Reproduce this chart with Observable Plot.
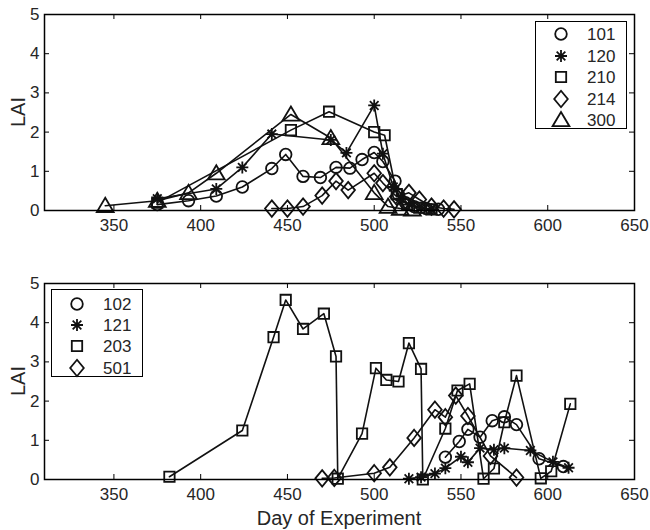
<!DOCTYPE html>
<html><head><meta charset="utf-8">
<script src="https://cdn.jsdelivr.net/npm/d3@7"></script>
<script src="https://cdn.jsdelivr.net/npm/@observablehq/plot@0.6"></script>
<style>
body{margin:0;background:#fff;}
#wrap{position:relative;width:650px;height:530px;overflow:hidden;font-family:"Liberation Sans",Arial,sans-serif;color:#262626;}
.panel{position:absolute;left:0;}
.legend{position:absolute;border:1.4px solid #000;background:#fff;box-sizing:border-box;}
.legend svg{position:absolute;overflow:visible;}
.legend span{position:absolute;font-size:17px;line-height:1;transform:translateY(-50%);color:#262626;}
.lab{position:absolute;font-size:20px;white-space:nowrap;line-height:1;color:#262626;}
</style></head>
<body><div id="wrap"></div>
<script>
// ---------- data ----------
const xTicks = [350, 400, 450, 500, 550, 600, 650];
const yTicks = [0, 1, 2, 3, 4, 5];

// top panel
const topNames = ["101", "120", "210", "214", "300"];
const day101 = [375, 393, 409, 424, 441, 449, 459, 469, 478, 486, 493, 500, 505, 512, 514, 518, 523, 530, 537];
const lai101 = [0.15, 0.25, 0.37, 0.6, 1.07, 1.43, 0.87, 0.84, 1.1, 1.08, 1.3, 1.48, 1.25, 0.75, 0.4, 0.2, 0.1, 0.05, 0.03];
const day120 = [375, 409, 424, 441, 475, 484, 500, 505, 511, 515, 520, 527, 533];
const lai120 = [0.3, 0.55, 1.1, 1.95, 1.8, 1.47, 2.68, 1.45, 0.6, 0.3, 0.15, 0.07, 0.03];
const day210 = [375, 452, 474, 500, 506, 513, 519, 526, 533];
const lai210 = [0.2, 2.05, 2.52, 2.0, 1.92, 0.42, 0.15, 0.07, 0.03];
const day214 = [441, 450, 459, 470, 478, 485, 500, 505, 513, 520, 526, 533, 540, 546];
const lai214 = [0.05, 0.05, 0.1, 0.38, 0.75, 0.52, 0.95, 0.7, 0.35, 0.45, 0.28, 0.1, 0.05, 0.03];
const day300 = [345, 375, 393, 409, 452, 475, 500, 508, 515, 522];
const lai300 = [0.12, 0.25, 0.45, 0.95, 2.45, 1.85, 0.45, 0.1, 0.05, 0.03];

// bottom panel
const botNames = ["102", "121", "203", "501"];
const day102 = [541, 549, 554, 561, 568, 575, 582, 595, 609];
const lai102 = [0.57, 0.97, 1.28, 1.08, 1.5, 1.6, 1.4, 0.53, 0.33];
const day121 = [520, 527, 535, 541, 550, 554, 561, 569, 575, 590, 603, 612];
const lai121 = [0.02, 0.06, 0.15, 0.29, 0.58, 0.44, 0.8, 0.76, 0.8, 0.74, 0.45, 0.3];
const day203 = [382, 424, 442, 449, 459, 471, 478, 479, 493, 501, 507, 514, 520, 527, 528, 541, 548, 555, 563, 569, 575, 582, 596, 602, 613];
const lai203 = [0.07, 1.25, 3.63, 4.58, 3.84, 4.23, 3.14, 0.02, 1.17, 2.84, 2.54, 2.5, 3.48, 2.82, 0.0, 1.3, 2.27, 2.44, 0.02, 0.28, 1.46, 2.65, 0.03, 0.21, 1.93];
const day501 = [470, 477, 500, 509, 523, 535, 541, 547, 554, 567, 582];
const lai501 = [0.03, 0.04, 0.16, 0.31, 1.06, 1.78, 1.59, 2.14, 1.62, 0.6, 0.05];

// ---------- marker shapes ----------
const symCircle = {draw(c){ c.moveTo(5.8,0); c.arc(0,0,5.8,0,2*Math.PI); }};
const symStar = {draw(c){ const r=6, q=r*0.72;
  c.moveTo(-r,0); c.lineTo(r,0); c.moveTo(0,-r); c.lineTo(0,r);
  c.moveTo(-q,-q); c.lineTo(q,q); c.moveTo(-q,q); c.lineTo(q,-q); }};
const symSquare = {draw(c){ const s=5.2; c.moveTo(-s,-s); c.lineTo(s,-s); c.lineTo(s,s); c.lineTo(-s,s); c.closePath(); }};
const symDiamond = {draw(c){ c.moveTo(0,-8.2); c.lineTo(6.8,0); c.lineTo(0,8.2); c.lineTo(-6.8,0); c.closePath(); }};
const symTriangle = {draw(c){ c.moveTo(0,-8); c.lineTo(8.4,6.2); c.lineTo(-8.4,6.2); c.closePath(); }};

const rows = (d, v) => d.map((x, i) => ({day: x, lai: v[i]}));

const topData = [
  {name: topNames[0], sym: symCircle, data: rows(day101, lai101)},
  {name: topNames[1], sym: symStar, data: rows(day120, lai120)},
  {name: topNames[2], sym: symSquare, data: rows(day210, lai210)},
  {name: topNames[3], sym: symDiamond, data: rows(day214, lai214)},
  {name: topNames[4], sym: symTriangle, data: rows(day300, lai300)}
];
const botData = [
  {name: botNames[0], sym: symCircle, data: rows(day102, lai102)},
  {name: botNames[1], sym: symStar, data: rows(day121, lai121)},
  {name: botNames[2], sym: symSquare, data: rows(day203, lai203)},
  {name: botNames[3], sym: symDiamond, data: rows(day501, lai501)}
];

const W = 650, H = 265, ML = 44, MR = 16;
const wrap = document.getElementById("wrap");

function panel(series, top, mt, mb) {
  const ph = H - mt - mb, pw = W - ML - MR;
  const marks = [];
  for (const s of series) {
    marks.push(Plot.line(s.data, {x: "day", y: "lai", stroke: "#111", strokeWidth: 1.6}));
  }
  for (const s of series) {
    marks.push(Plot.dot(s.data, {x: "day", y: "lai", symbol: s.sym, r: 5, stroke: "#111", fill: "none", strokeWidth: 1.8}));
  }
  marks.push(
    Plot.tickX(xTicks, {x: d => d, stroke: "#000", strokeWidth: 1, insetTop: ph - 5}),
    Plot.tickX(xTicks, {x: d => d, stroke: "#000", strokeWidth: 1, insetBottom: ph - 5}),
    Plot.tickY(yTicks, {y: d => d, stroke: "#000", strokeWidth: 1, insetRight: pw - 5}),
    Plot.tickY(yTicks, {y: d => d, stroke: "#000", strokeWidth: 1, insetLeft: pw - 5}),
    Plot.axisX(xTicks, {tickSize: 0, tickPadding: 8, fontSize: 17, fill: "#262626", label: null}),
    Plot.axisY(yTicks, {tickSize: 0, tickPadding: 5, fontSize: 17, fill: "#262626", label: null}),
    Plot.frame({stroke: "#000", strokeWidth: 1.5})
  );
  const svg = Plot.plot({
    width: W, height: H,
    marginLeft: ML, marginRight: MR, marginTop: mt, marginBottom: mb,
    x: {domain: [310, 650]},
    y: {domain: [0, 5]},
    style: {fontFamily: '"Liberation Sans", Arial, sans-serif', fontSize: "17px", background: "transparent", overflow: "visible"},
    marks
  });
  const div = document.createElement("div");
  div.className = "panel";
  div.style.top = top + "px";
  div.appendChild(svg);
  wrap.appendChild(div);
}

panel(topData, 0, 14, 55);
panel(botData, 265, 18, 51);

function legend(series, left, top, w, h, firstRow, step) {
  const box = document.createElement("div");
  box.className = "legend";
  Object.assign(box.style, {left: left + "px", top: top + "px", width: w + "px", height: h + "px"});
  series.forEach((s, i) => {
    const cy = firstRow + step * i;
    const svg = d3.create("svg").attr("width", 20).attr("height", 20)
      .style("left", (25 - 10) + "px").style("top", (cy - 10) + "px");
    svg.append("path").attr("transform", "translate(10,10)")
      .attr("d", d3.symbol(s.sym)()).attr("fill", "none").attr("stroke", "#111").attr("stroke-width", 1.8);
    box.appendChild(svg.node());
    const t = document.createElement("span");
    t.textContent = s.name;
    t.style.left = "51px"; t.style.top = cy + "px";
    box.appendChild(t);
  });
  wrap.appendChild(box);
}
legend(topData, 535, 21, 92, 108, 12.3, 21.4);
legend(botData, 51, 289, 92, 88, 13.7, 21.3);

function label(text, x, y, rot) {
  const el = document.createElement("div");
  el.className = "lab";
  el.textContent = text;
  el.style.left = x + "px"; el.style.top = y + "px";
  el.style.transform = "translate(-50%,-50%)" + (rot ? " rotate(-90deg)" : "");
  wrap.appendChild(el);
}
label("LAI", 17.5, 112, true);
label("LAI", 17.5, 381, true);
label("Day of Experiment", 339, 518, false);
</script>
</body></html>
